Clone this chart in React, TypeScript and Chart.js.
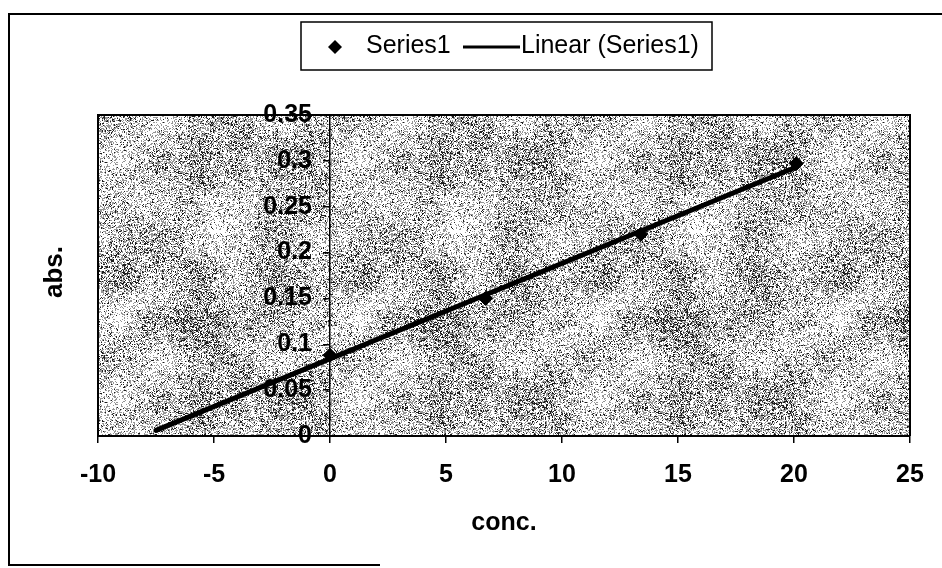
import React, { useEffect, useRef } from 'react';
import { Chart, registerables } from 'chart.js';

Chart.register(...registerables);

// ---- data ----
const concValues = [0, 6.7, 13.4, 20.1];
const absValues = [0.088, 0.15, 0.22, 0.297];
const trendStartX = -7.5; // backward forecast of the Excel trend line
const xTickLabels = ['-10', '-5', '0', '5', '10', '15', '20', '25'];
const yTickValues = [0, 0.05, 0.1, 0.15, 0.2, 0.25, 0.3, 0.35];
const yTickLabels = ['0', '0.05', '0.1', '0.15', '0.2', '0.25', '0.3', '0.35'];
const seriesName = 'Series1';
const trendName = 'Linear (Series1)';
const xTitle = 'conc.';
const yTitle = 'abs.';

const FONT = 'Arial, "Liberation Sans", sans-serif';

function linearFit(xs: number[], ys: number[]) {
  const n = xs.length;
  const mx = xs.reduce((a, b) => a + b, 0) / n;
  const my = ys.reduce((a, b) => a + b, 0) / n;
  let sxy = 0;
  let sxx = 0;
  for (let i = 0; i < n; i++) {
    sxy += (xs[i] - mx) * (ys[i] - my);
    sxx += (xs[i] - mx) * (xs[i] - mx);
  }
  const slope = sxy / sxx;
  return { slope, intercept: my - slope * mx };
}

// deterministic speckle texture (plot-area background styling only)
function makeTexture(): HTMLCanvasElement {
  const size = 240;
  const c = document.createElement('canvas');
  c.width = size;
  c.height = size;
  const g = c.getContext('2d')!;
  const img = g.createImageData(size, size);
  const hash = (x: number, y: number) => {
    const s = Math.sin(x * 127.1 + y * 311.7) * 43758.5453;
    return s - Math.floor(s);
  };
  const smooth = (t: number) => t * t * (3 - 2 * t);
  const valueNoise = (x: number, y: number, cell: number, seed: number) => {
    const n = size / cell;
    const gx = x / cell;
    const gy = y / cell;
    const x0 = Math.floor(gx);
    const y0 = Math.floor(gy);
    const fx = smooth(gx - x0);
    const fy = smooth(gy - y0);
    const h = (i: number, j: number) => hash(((i % n) + n) % n + seed, ((j % n) + n) % n + seed * 3);
    const a = h(x0, y0);
    const b = h(x0 + 1, y0);
    const cc = h(x0, y0 + 1);
    const d = h(x0 + 1, y0 + 1);
    return (a * (1 - fx) + b * fx) * (1 - fy) + (cc * (1 - fx) + d * fx) * fy;
  };
  for (let y = 0; y < size; y++) {
    for (let x = 0; x < size; x++) {
      let blob =
        0.6 * valueNoise(x, y, 40, 17) + 0.3 * valueNoise(x, y, 20, 53) + 0.1 * valueNoise(x, y, 8, 91);
      blob = Math.max(0, Math.min(1, (blob - 0.5) * 1.5 + 0.5));
      const r = hash(x, y);
      const r2 = hash((x >> 1) + 7, (y >> 1) + 999);
      let v = 255;
      if (r < 0.04 + 0.3 * blob && r2 < 0.4 + 0.6 * blob) v = 30;
      else if (r < 0.22 + 0.45 * blob) v = 150;
      const i = (y * size + x) * 4;
      img.data[i] = v;
      img.data[i + 1] = v;
      img.data[i + 2] = v;
      img.data[i + 3] = 255;
    }
  }
  g.putImageData(img, 0, 0);
  return c;
}

const decorPlugin = {
  id: 'decor',
  beforeDraw(chart: any) {
    const { ctx, chartArea } = chart;
    const { left, top, right, bottom } = chartArea;
    ctx.save();
    ctx.fillStyle = '#fff';
    ctx.fillRect(0, 0, chart.width, chart.height);
    const pat = ctx.createPattern(makeTexture(), 'repeat');
    ctx.fillStyle = pat || '#aaa';
    ctx.fillRect(left, top, right - left, bottom - top);
    ctx.restore();
  },
  beforeDatasetsDraw(chart: any) {
    const { ctx, chartArea, scales } = chart;
    const { left, top, right, bottom } = chartArea;
    ctx.save();
    ctx.strokeStyle = '#000';
    ctx.lineWidth = 2;
    ctx.beginPath();
    ctx.moveTo(left, bottom);
    ctx.lineTo(left, top);
    ctx.lineTo(right, top);
    ctx.lineTo(right, bottom);
    ctx.stroke();
    // y tick labels, placed left of the y axis (which crosses at x = 0)
    const axisX = scales.x.getPixelForValue(0);
    ctx.fillStyle = '#000';
    ctx.font = `bold 25px ${FONT}`;
    ctx.textAlign = 'right';
    ctx.textBaseline = 'middle';
    yTickValues.forEach((v, i) => {
      ctx.fillText(yTickLabels[i], axisX - 18, scales.y.getPixelForValue(v));
    });
    ctx.restore();
  },
  afterDraw(chart: any) {
    const { ctx } = chart;
    ctx.save();
    // outer chart border
    ctx.strokeStyle = '#000';
    ctx.lineWidth = 2;
    ctx.beginPath();
    ctx.moveTo(942, 14);
    ctx.lineTo(9, 14);
    ctx.lineTo(9, 565);
    ctx.lineTo(380, 565);
    ctx.stroke();

    // legend box
    ctx.fillStyle = '#fff';
    ctx.fillRect(301, 22, 411, 48);
    ctx.lineWidth = 1.5;
    ctx.strokeRect(301, 22, 411, 48);
    // diamond marker
    ctx.fillStyle = '#000';
    ctx.beginPath();
    ctx.moveTo(335, 40);
    ctx.lineTo(342, 47);
    ctx.lineTo(335, 54);
    ctx.lineTo(328, 47);
    ctx.closePath();
    ctx.fill();
    ctx.font = `25px ${FONT}`;
    ctx.textBaseline = 'middle';
    ctx.textAlign = 'left';
    ctx.fillText(seriesName, 366, 46);
    ctx.lineWidth = 3;
    ctx.beginPath();
    ctx.moveTo(463, 47);
    ctx.lineTo(520, 47);
    ctx.stroke();
    ctx.fillText(trendName, 521, 46);

    // y axis title
    ctx.translate(55, 272);
    ctx.rotate(-Math.PI / 2);
    ctx.font = `bold 26px ${FONT}`;
    ctx.textAlign = 'center';
    ctx.fillText(yTitle, 0, 0);
    ctx.restore();
  },
};

export default function App() {
  const ref = useRef<HTMLCanvasElement | null>(null);

  useEffect(() => {
    const canvas = ref.current;
    if (!canvas) return;
    const fit = linearFit(concValues, absValues);
    const xEnd = concValues[concValues.length - 1];
    const chart = new Chart(canvas, {
      type: 'scatter',
      data: {
        datasets: [
          {
            label: seriesName,
            data: concValues.map((x, i) => ({ x, y: absValues[i] })),
            pointStyle: 'rectRot',
            pointRadius: 7,
            backgroundColor: '#000',
            borderColor: '#000',
            showLine: false,
            order: 0,
          },
          {
            label: trendName,
            data: [
              { x: trendStartX, y: fit.intercept + fit.slope * trendStartX },
              { x: xEnd, y: fit.intercept + fit.slope * xEnd },
            ],
            showLine: true,
            borderColor: '#000',
            backgroundColor: '#000',
            borderWidth: 5,
            borderCapStyle: 'round',
            pointRadius: 0,
            order: 1,
          },
        ],
      },
      options: {
        responsive: false,
        animation: false,
        layout: { padding: { left: 98, right: 32, top: 115, bottom: 30 } },
        plugins: { legend: { display: false }, tooltip: { enabled: false } },
        scales: {
          x: {
            type: 'linear',
            min: -10,
            max: 25,
            position: 'bottom',
            ticks: {
              stepSize: 5,
              padding: 17,
              color: '#000',
              font: { family: FONT, size: 25, weight: 'bold' },
              callback: (_v: any, i: number) => xTickLabels[i],
            },
            grid: { drawOnChartArea: false, drawTicks: true, tickLength: 7, color: '#000', lineWidth: 1.5 },
            border: { display: true, color: '#000', width: 2 },
            title: {
              display: true,
              text: xTitle,
              color: '#000',
              font: { family: FONT, size: 25, weight: 'bold' },
              padding: { top: 1, bottom: 0 },
            },
          },
          y: {
            type: 'linear',
            min: 0,
            max: 0.35,
            position: { x: 0 },
            ticks: {
              stepSize: 0.05,
              display: false,
            },
            grid: { drawOnChartArea: false, drawTicks: true, tickLength: 6, color: '#000', lineWidth: 1.5 },
            border: { display: true, color: '#000', width: 1.5 },
          },
        },
      } as any,
      plugins: [decorPlugin],
    });
    return () => chart.destroy();
  }, []);

  return (
    <div style={{ position: 'absolute', left: 0, top: 0, width: 942, height: 568, background: '#fff' }}>
      <canvas ref={ref} width={942} height={568} style={{ display: 'block' }} />
    </div>
  );
}
